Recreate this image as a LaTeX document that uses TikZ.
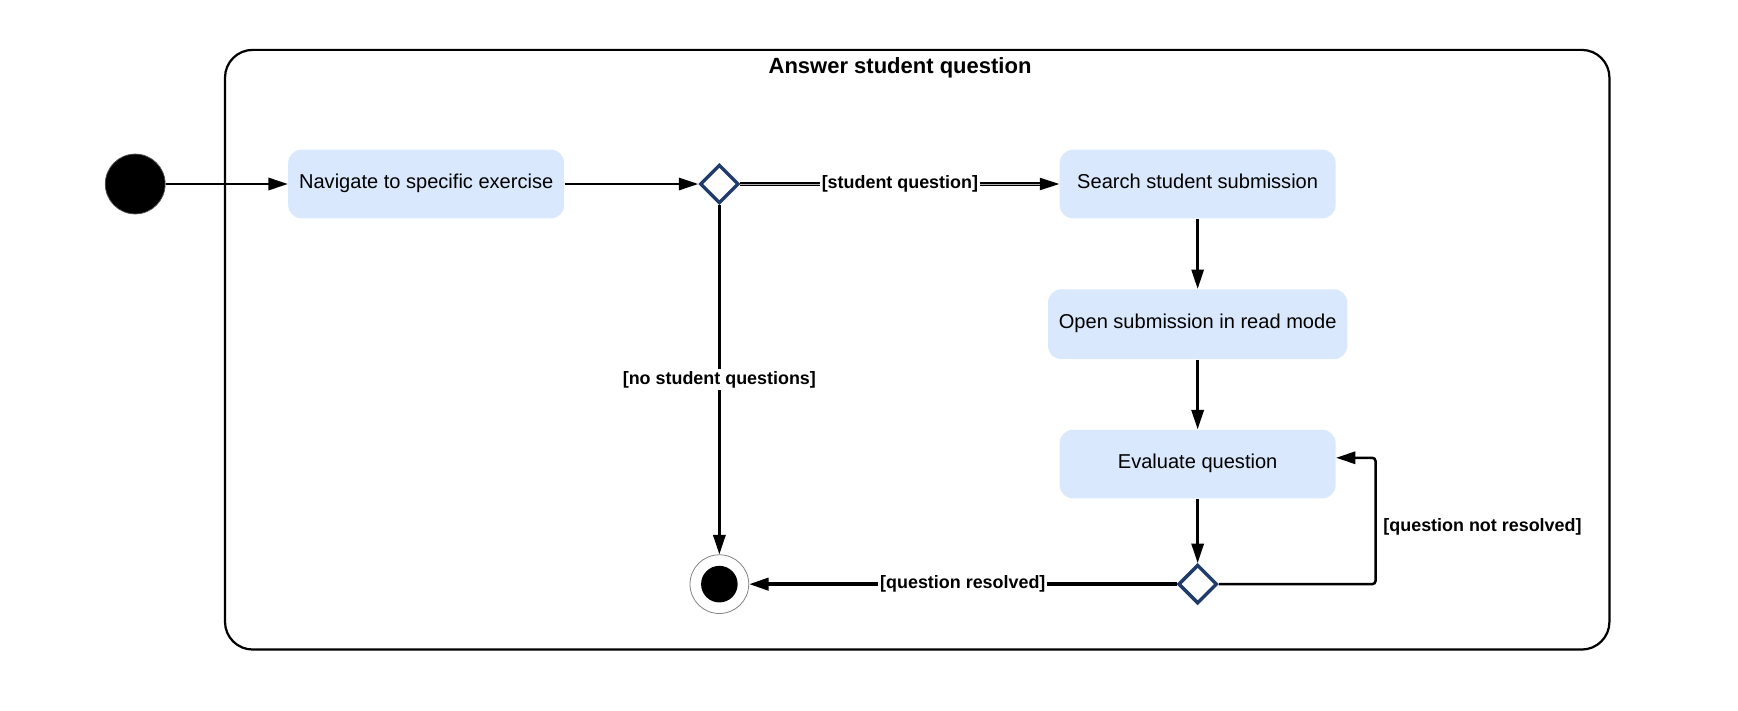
\documentclass[tikz,border=0pt]{standalone}
\usepackage{fontspec}
\setmainfont{Liberation Sans}
\usetikzlibrary{arrows.meta, shapes.geometric, positioning}

\definecolor{actfill}{HTML}{D9E8FC}
\definecolor{decblue}{HTML}{1F3C6B}

\begin{document}
\begin{tikzpicture}[x=0.02cm, y=-0.02cm,
    act/.style={rounded corners=0.24cm, fill=actfill, minimum width=4.98cm,
        minimum height=1.24cm, inner sep=0, text height=0.75em, text depth=0.3em,
        font=\fontsize{10.3}{12}\selectfont},
    dec/.style={diamond, draw=decblue, line width=0.062cm, minimum width=0.7cm,
        minimum height=0.7cm, inner sep=0},
    flow/.style={line width=0.046cm, -{Triangle[length=0.35cm, width=0.22cm]}},
    guard/.style={fill=white, inner sep=1pt, font=\bfseries\fontsize{9.2}{11}\selectfont}]
    \useasboundingbox (0,0) rectangle (1568,640.6);
    \draw[line width=0.04cm, rounded corners=0.5cm] (203,45) rectangle (1452,586);
    \node[font=\bfseries\fontsize{11.3}{13}\selectfont] (title) at (812,61) {Answer student question};

    \node[circle, fill=black, draw=black!70, thin, minimum size=1.08cm] (init) at (122,166) {};
    \node[act] (nav) at (384.5,166) {Navigate to specific exercise};
    \node[dec] (dq) at (649,166) {};
    \node[act] (search) at (1080.5,166) {Search student submission};
    \node[act, minimum width=5.4cm, minimum height=1.26cm] (open) at (1080.5,292.5) {Open submission in read mode};
    \node[act] (eval) at (1080.5,418.7) {Evaluate question};
    \node[dec] (dr) at (1080.5,527) {};
    \node[circle, draw=black!50, thin, minimum size=1.06cm] (final) at (649,527) {};
    \node[circle, fill=black, minimum size=0.66cm] (finaldot) at (final) {};
    \coordinate (lp) at (1241,413);

    \draw[flow] (init) -- (nav);
    \draw[flow] (nav) -- (dq);
    \draw[flow, line width=0.75pt, double=black!30, double distance=0.5pt]
        (dq) -- node[guard] {[student question]} (search);
    \draw[flow] (dq) -- node[guard] {[no student questions]} (final);
    \draw[flow] (search) -- (open);
    \draw[flow] (open) -- (eval);
    \draw[flow] (eval) -- (dr);
    \draw[flow, line width=0.06cm] (dr) -- node[guard] {[question resolved]} (final);
    \draw[flow, rounded corners=0.06cm] (dr.east) -| (lp) -- (lp -| eval.east);
    \node[guard, anchor=west] (notres) at (1246,475) {[question not resolved]};
\end{tikzpicture}
\end{document}
